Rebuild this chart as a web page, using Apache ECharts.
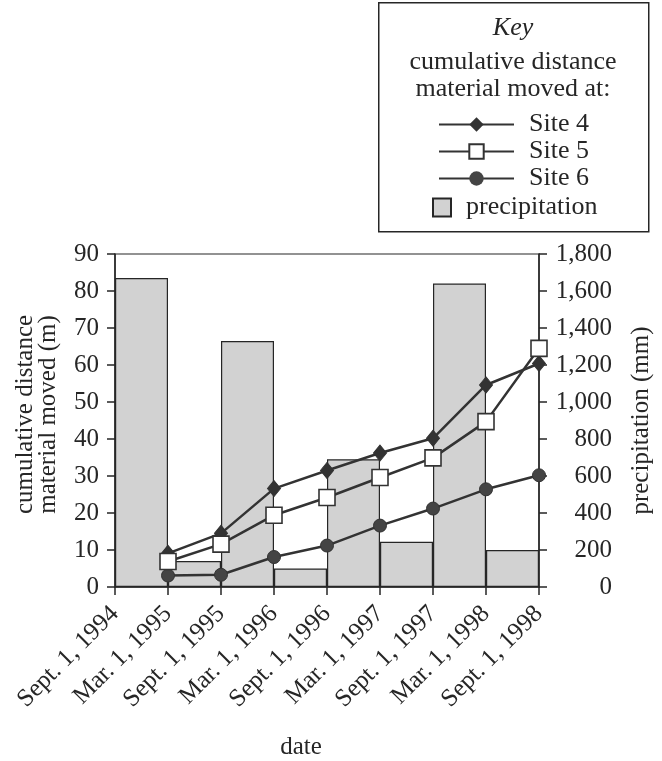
<!DOCTYPE html>
<html>
<head>
<meta charset="utf-8">
<script src="https://cdn.jsdelivr.net/npm/echarts@6/dist/echarts.min.js"></script>
<style>html,body{margin:0;padding:0;background:#fff;}#c{width:662px;height:761px;}</style>
</head>
<body>
<div id="c"></div>
<script>
var dateLabels = ['Sept. 1, 1994','Mar. 1, 1995','Sept. 1, 1995','Mar. 1, 1996','Sept. 1, 1996','Mar. 1, 1997','Sept. 1, 1997','Mar. 1, 1998','Sept. 1, 1998'];
var intervals = ['1994-95 winter','1995 summer','1995-96 winter','1996 summer','1996-97 winter','1997 summer','1997-98 winter','1998 summer'];
var precipitation = [1670, 140, 1330, 100, 690, 245, 1640, 200];
var site4 = [9.1, 14.5, 26.6, 31.5, 36.2, 40.2, 54.6, 60.4];
var site5 = [6.9, 11.6, 19.4, 24.2, 29.6, 34.9, 44.7, 64.5];
var site6 = [3.1, 3.3, 8.1, 11.2, 16.6, 21.2, 26.4, 30.2];
var leftTicks = [0,10,20,30,40,50,60,70,80,90];
var rightTicks = [0,200,400,600,800,1000,1200,1400,1600,1800];

function pts(arr){ return arr.map(function(v,i){ return [i+1, v]; }); }

var FONT = 'Liberation Serif';
var INK = '#262626';
var chart = echarts.init(document.getElementById('c'));
var option = {
  backgroundColor: '#fff',
  animation: false,
  textStyle: { fontFamily: FONT, color: INK },
  grid: { left: 115, right: 123, top: 254, bottom: 172, show: true, borderColor: INK, borderWidth: 1.2, backgroundColor: 'transparent' },
  xAxis: [
    { type: 'category', data: intervals, boundaryGap: true, show: false },
    { type: 'value', min: 0, max: 8, interval: 1, position: 'bottom',
      axisLine: { lineStyle: { color: INK, width: 1.5 } },
      axisTick: { show: true, length: 8, inside: false, lineStyle: { color: INK, width: 1.5 } },
      splitLine: { show: false },
      axisLabel: { rotate: 45, margin: 23, fontSize: 25, fontFamily: FONT, color: INK,
        formatter: function(v){ return dateLabels[v] || ''; } },
      name: 'date', nameLocation: 'middle', nameGap: 148,
      nameTextStyle: { fontSize: 25, fontFamily: FONT, color: INK, padding: [0, 52, 0, 0] }
    }
  ],
  yAxis: [
    { type: 'value', min: 0, max: 90, interval: 10, position: 'left',
      axisLine: { show: true, lineStyle: { color: INK, width: 1.5 } },
      axisTick: { show: true, length: 8, lineStyle: { color: INK, width: 1.5 } },
      splitLine: { show: false },
      axisLabel: { fontSize: 25, fontFamily: FONT, color: INK, margin: 16,
        formatter: function(v){ return leftTicks.indexOf(v) >= 0 ? String(v) : ''; } },
      name: 'cumulative distance\nmaterial moved (m)', nameLocation: 'middle', nameRotate: 90, nameGap: 55,
      nameTextStyle: { fontSize: 25, fontFamily: FONT, color: INK, lineHeight: 23, padding: [0, 0, 0, 12] }
    },
    { type: 'value', min: 0, max: 1800, interval: 200, position: 'right',
      axisLine: { show: true, lineStyle: { color: INK, width: 1.5 } },
      axisTick: { show: true, length: 8, lineStyle: { color: INK, width: 1.5 } },
      splitLine: { show: false },
      axisLabel: { fontSize: 25, fontFamily: FONT, color: INK, margin: 73, align: 'right',
        formatter: function(v){ return rightTicks.indexOf(v) >= 0 ? v.toLocaleString('en-US') : ''; } },
      name: 'precipitation (mm)', nameLocation: 'middle', nameRotate: 90, nameGap: 90,
      nameTextStyle: { fontSize: 25, fontFamily: FONT, color: INK }
    }
  ],
  legend: [
    { orient: 'vertical', left: 433, top: 106, itemWidth: 75, itemHeight: 18, itemGap: 0,
      data: ['Site 4', 'Site 5', 'Site 6'],
      textStyle: { fontSize: 26, lineHeight: 27, fontFamily: FONT, color: INK, padding: [0, 0, 0, 10] } },
    { orient: 'vertical', left: 427, top: 189, itemWidth: 18, itemHeight: 18,
      data: [{ name: 'precipitation', icon: 'rect' }],
      textStyle: { fontSize: 26, lineHeight: 27, fontFamily: FONT, color: INK, padding: [0, 0, 0, 10] } }
  ],
  graphic: [
    { type: 'rect', left: 378, top: 2, shape: { width: 270, height: 229 }, style: { fill: 'transparent', stroke: INK, lineWidth: 1.5 } },
    { type: 'text', x: 513, y: 28, style: { text: 'Key', fontSize: 26, fontStyle: 'italic', fontFamily: FONT, fill: INK, align: 'center', verticalAlign: 'middle' } },
    { type: 'text', x: 513, y: 62, style: { text: 'cumulative distance', fontSize: 26, fontFamily: FONT, fill: INK, align: 'center', verticalAlign: 'middle' } },
    { type: 'text', x: 513, y: 89, style: { text: 'material moved at:', fontSize: 26, fontFamily: FONT, fill: INK, align: 'center', verticalAlign: 'middle' } }
  ],
  series: [
    { name: 'precipitation', type: 'bar', xAxisIndex: 0, yAxisIndex: 1, data: precipitation, barWidth: '100%', barGap: '-100%',
      itemStyle: { color: '#d2d2d2', borderColor: INK, borderWidth: 1.2 }, z: 1 },
    { name: 'Site 4', type: 'line', xAxisIndex: 1, yAxisIndex: 0, data: pts(site4), symbol: 'diamond', symbolSize: [13, 16],
      lineStyle: { color: '#333', width: 2.5 }, itemStyle: { color: '#333', borderColor: '#333' }, z: 3 },
    { name: 'Site 5', type: 'line', xAxisIndex: 1, yAxisIndex: 0, data: pts(site5), symbol: 'rect', symbolSize: 16,
      lineStyle: { color: '#333', width: 2.5 }, itemStyle: { color: '#fff', borderColor: '#333', borderWidth: 1.6 }, z: 4 },
    { name: 'Site 6', type: 'line', xAxisIndex: 1, yAxisIndex: 0, data: pts(site6), symbol: 'circle', symbolSize: 13,
      lineStyle: { color: '#333', width: 2.5 }, itemStyle: { color: '#444', borderColor: '#333' }, z: 3 }
  ]
};
chart.setOption(option);
</script>
</body>
</html>
